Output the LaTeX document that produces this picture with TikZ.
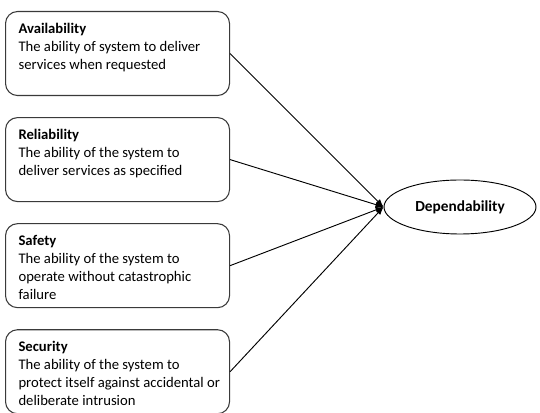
\documentclass[tikz,border=0pt]{standalone}
\usepackage{fontspec}
\setmainfont{Carlito}
\usepackage{tikz}
\usetikzlibrary{arrows.meta, positioning, shapes.geometric}
\definecolor{boxline}{HTML}{3a3a3a}

\newcommand{\proptext}[2]{\parbox[t][57pt][t]{160pt}{\vspace*{5.5pt}\raggedright\leftskip=5.75pt\textbf{#1}\\#2}}

\begin{document}
\begin{tikzpicture}[
    prop/.style={rectangle, rounded corners=9pt, draw=boxline, line width=0.8pt, inner xsep=4pt, inner ysep=3pt, minimum width=168pt, minimum height=63pt, font=\fontsize{11}{13.6}\selectfont},
    goal/.style={ellipse, draw, line width=0.7pt, minimum width=114pt, minimum height=40.5pt, inner sep=0pt, font=\fontsize{11.5}{14}\selectfont\bfseries},
    attr/.style={-{Latex[length=6pt, width=4.5pt]}, line width=0.7pt},
    node distance=15.75pt,
  ]
  \useasboundingbox (0,0) rectangle (405pt,-309.75pt);

  \node[prop, anchor=north west] (avail) at (3.75pt,-8.25pt)
    {\proptext{Availability}{The ability of system to deliver\\services when requested}};
  \node[prop, below=of avail] (rel)
    {\proptext{Reliability}{The ability of the system to\\deliver services as specified}};
  \node[prop, below=of rel] (safe)
    {\proptext{Safety}{The ability of the system to\\operate without catastrophic\\failure}};
  \node[prop, below=of safe] (sec)
    {\proptext{Security}{The ability of the system to\\protect itself against accidental or\\deliberate intrusion}};

  \node[goal] (dep) at (345pt,-155.25pt) {Dependability};

  % Attributes
  \draw[attr] (avail.east) -- (dep.west);
  \draw[attr] (rel.east) -- (dep.west);
  \draw[attr] (safe.east) -- (dep.west);
  \draw[attr] (sec.east) -- (dep.west);
\end{tikzpicture}
\end{document}
